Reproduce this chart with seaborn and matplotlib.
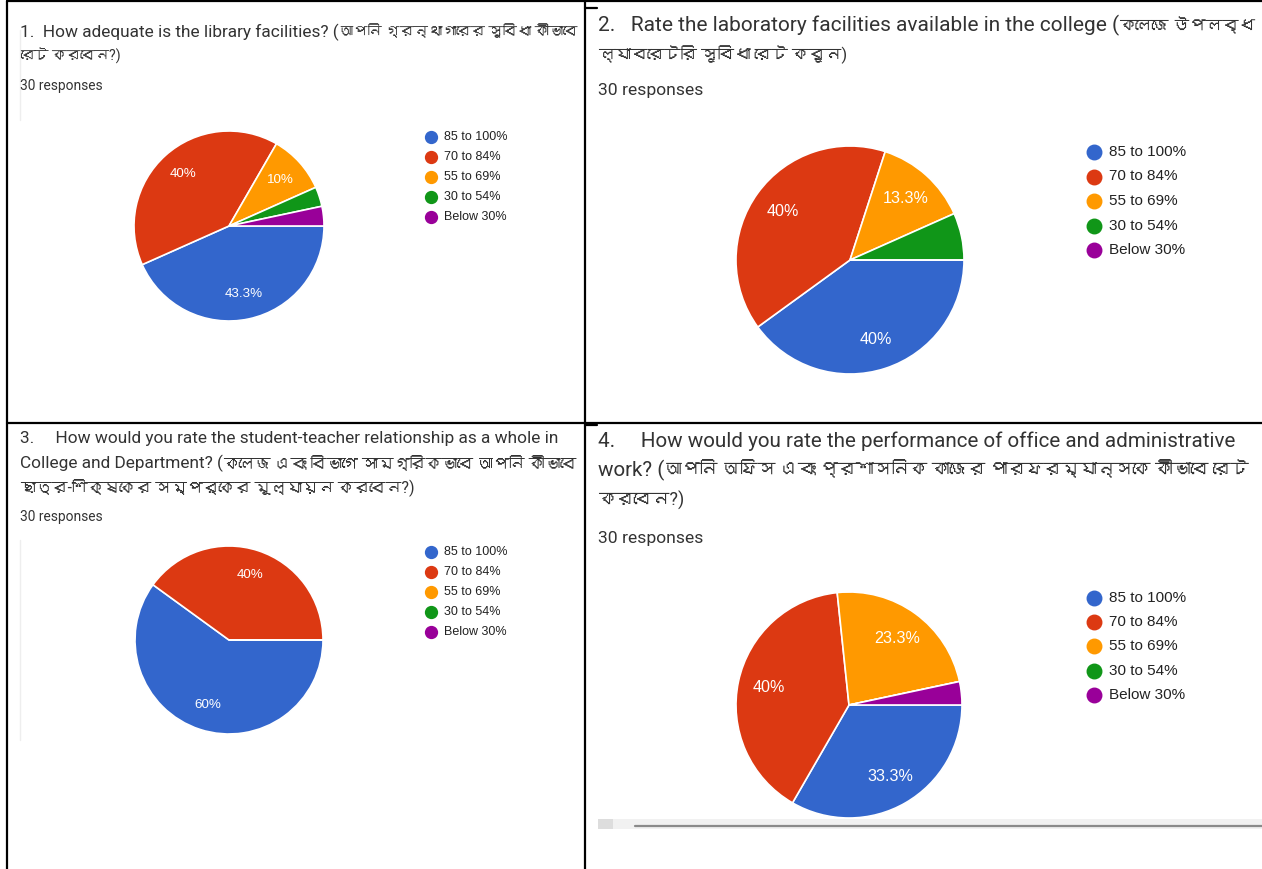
import seaborn as sns
import matplotlib
matplotlib.use('Agg')
import matplotlib.pyplot as plt
from matplotlib import font_manager, ft2font
from matplotlib.lines import Line2D
from matplotlib.patches import Rectangle

W, H = 1262, 869

# data: 30 responses per question, counts per rating band
bands = ['85 to 100%', '70 to 84%', '55 to 69%', '30 to 54%', 'Below 30%']
band_colors = ['#3366cc', '#dc3912', '#ff9900', '#109618', '#990099']

library_counts = [13, 12, 3, 1, 1]
laboratory_counts = [12, 12, 4, 2, 0]
relationship_counts = [18, 12, 0, 0, 0]
office_counts = [10, 12, 7, 0, 1]

q1_title = ['1.  How adequate is the library facilities? (আপনি গ্রন্থাগারের সুবিধা কীভাবে',
            'রেট করবেন?)']
q2_title = ['2.   Rate the laboratory facilities available in the college (কলেজে উপলব্ধ',
            'ল্যাবরেটরি সুবিধা রেট করুন)']
q3_title = ['3.     How would you rate the student-teacher relationship as a whole in',
            'College and Department? (কলেজ এবং বিভাগে সামগ্রিকভাবে আপনি কীভাবে',
            'ছাত্র-শিক্ষকের সম্পর্কের মূল্যায়ন করবেন?)']
q4_title = ['4.     How would you rate the performance of office and administrative',
            'work? (আপনি অফিস এবং প্রশাসনিক কাজের পারফরম্যান্সকে কীভাবে রেট',
            'করবেন?)']


def find_bengali():
    # look for any installed font that has bengali glyphs
    for f in font_manager.fontManager.ttflist:
        try:
            if 0x0995 in ft2font.FT2Font(f.fname).get_charmap():
                return f.name
        except Exception:
            pass
    return None


sns.set_theme(style='white')
beng = find_bengali()
title_family = ['Roboto'] + ([beng] if beng else []) + ['DejaVu Sans']
chart_family = ['Liberation Sans', 'DejaVu Sans']
plt.rcParams['font.family'] = title_family

fig = plt.figure(figsize=(W / 100, H / 100), dpi=100)
renderer = fig.canvas.get_renderer()


def fx(x):
    return x / W


def fy(y):
    return 1 - y / H


def pct_label(p):
    if p < 8:
        return ''
    s = '%.1f' % p
    if s.endswith('.0'):
        s = s[:-2]
    return s + '%'


def split_bengali(line):
    for i, ch in enumerate(line):
        if '\u0980' <= ch <= '\u09ff':
            return line[:i], line[i:]
    return line, ''


def title_line(line, x, y, size, end_x, scale):
    # english part at the title size; bengali part squeezed so the line ends
    # where the reference line ends (unshaped bengali runs wider)
    head, tail = split_bengali(line)
    start = x
    if head:
        t = fig.text(fx(x), fy(y), head, fontsize=size, color='#333333',
                     va='center', ha='left', family=title_family)
        start = t.get_window_extent(renderer).x1
    if tail:
        t2 = fig.text(fx(start), fy(y), tail, fontsize=size, color='#333333',
                      va='center', ha='left', family=title_family)
        w = t2.get_window_extent(renderer).width
        if end_x and w > 0:
            scale = min(1.0, (end_x - start) / w)
        t2.set_fontsize(size * scale)
    return scale


# panel settings: title x, title line ys, title size, line end x, responses y, responses size,
# pie center/radius, pct font size, legend x, legend first y, legend step, legend size
panels = [
    (library_counts, q1_title, 20, [32, 56], 12.4, [578, None], 86, 9.9,
     (229, 226), 95, 9.6, 431, 137, 20, 9),
    (laboratory_counts, q2_title, 598, [25, 55], 15, [1256, None], 91, 12.6,
     (850, 260), 114, 11.6, 1094, 152, 24.5, 11),
    (relationship_counts, q3_title, 20, [438, 463, 487], 12.4, [None, 578, None], 517, 9.9,
     (229, 640), 94, 9.6, 431, 552, 20, 9),
    (office_counts, q4_title, 598, [441, 470, 500], 14.9, [None, 1247, None], 538, 12.6,
     (849, 705), 113, 11.6, 1094, 598, 24.2, 11),
]

for (counts, title, tx, tys, tsize, ends, ry, rsize, (cx, cy), r, psize,
     lx, ly, lstep, lsize) in panels:
    scale = 1.0
    for line, y, e in zip(title, tys, ends):
        scale = title_line(line, tx, y, tsize, e, scale)
    fig.text(fx(tx), fy(ry), '30 responses', fontsize=rsize, color='#333333',
             va='center', ha='left', family=title_family)

    ax = fig.add_axes([fx(cx - r), fy(cy + r), 2 * r / W, 2 * r / H])
    ax.pie(counts, colors=band_colors, startangle=0, counterclock=False,
           autopct=pct_label, pctdistance=0.73,
           wedgeprops=dict(edgecolor='white', linewidth=1.2),
           textprops=dict(color='white', fontsize=psize, family=chart_family))
    ax.set_xlim(-1, 1)
    ax.set_ylim(-1, 1)
    ax.axis('off')

    ms = lsize * 0.95
    for i, (lab, col) in enumerate(zip(bands, band_colors)):
        y = ly + i * lstep
        fig.add_artist(Line2D([fx(lx)], [fy(y)], marker='o', markersize=ms,
                              color=col, linestyle='none', transform=fig.transFigure))
        fig.text(fx(lx + ms * 1.25 + 2), fy(y), lab, fontsize=lsize, color='#222222',
                 va='center', ha='left', family=chart_family)

# faint screenshot edges
for (x, y0, y1) in [(20, 30, 120), (20, 540, 740)]:
    fig.add_artist(Line2D([fx(x), fx(x)], [fy(y0), fy(y1)], color='#eeeeee', lw=1,
                          transform=fig.transFigure))

# scrollbar at bottom of panel 4
fig.add_artist(Rectangle((fx(598), fy(829)), fx(1262 - 598), 10 / H,
                         color='#f1f1f1', transform=fig.transFigure, lw=0))
fig.add_artist(Rectangle((fx(598), fy(829)), fx(15), 10 / H,
                         color='#dddddd', transform=fig.transFigure, lw=0))
fig.add_artist(Line2D([fx(635), fx(1262)], [fy(826), fy(826)], color='#8a8a8a', lw=1.6,
                      transform=fig.transFigure))

# table grid lines
grid = [((7, 1), (1262, 1)), ((7, 423), (1262, 423)),
        ((7, 1), (7, 869)), ((585, 1), (585, 869)),
        ((585, 8), (597, 8)), ((585, 425), (597, 425))]
for (x0, y0), (x1, y1) in grid:
    fig.add_artist(Line2D([fx(x0), fx(x1)], [fy(y0), fy(y1)], color='black', lw=1.6,
                          transform=fig.transFigure))

fig.savefig('out.png', dpi=100, facecolor='white')
